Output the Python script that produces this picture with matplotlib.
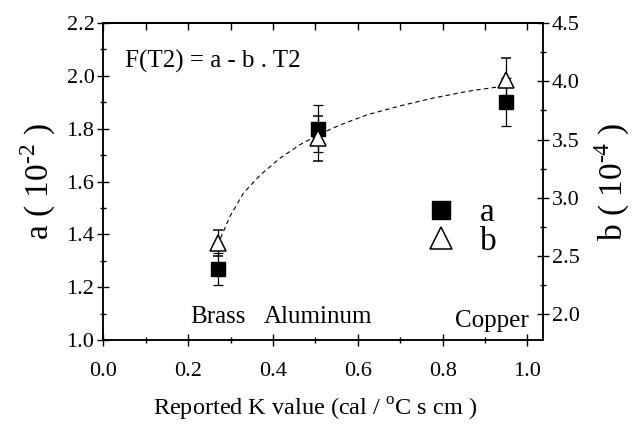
import matplotlib
matplotlib.use("Agg")
import matplotlib.pyplot as plt
from matplotlib.lines import Line2D
from matplotlib.ticker import MultipleLocator, NullFormatter

plt.rcParams["font.family"] = ["Liberation Serif", "DejaVu Serif"]
plt.rcParams["mathtext.fontset"] = "custom"
plt.rcParams["mathtext.rm"] = "Liberation Serif"

# data
metals = ["Brass", "Aluminum", "Copper"]
k_value = [0.27, 0.507, 0.95]
a_val = [1.27, 1.80, 1.90]
a_err = [0.06, 0.09, 0.09]
b_val = [2.61, 3.51, 4.01]
b_err = [0.11, 0.19, 0.19]

# dashed guide curve (left-axis units)
fit_k = [0.276, 0.298, 0.330, 0.370, 0.416, 0.463, 0.507, 0.558, 0.621,
         0.699, 0.778, 0.857, 0.935]
fit_a = [1.385, 1.467, 1.556, 1.625, 1.688, 1.739, 1.777, 1.814, 1.852,
         1.886, 1.916, 1.941, 1.959]

label_y = [1.087, 1.087, 1.072]
label_dx = [0.0, 0.0, -0.035]

fig = plt.figure(figsize=(6.4, 4.24), dpi=100)
ax = fig.add_axes([0.1617, 0.198, 0.6867, 0.7478])
ax2 = ax.twinx()

ax.set_xlim(0, 1.0366)
ax.set_ylim(1.0, 2.2)
ax2.set_ylim(1.78, 4.5)

ax.plot(fit_k, fit_a, ls=(0, (4, 3)), color="black", lw=0.8, zorder=2)

ax.errorbar(k_value, a_val, yerr=a_err, fmt="s", ms=9.5, mfc="black", mec="black",
            ecolor="black", elinewidth=0.9, capsize=3.5, capthick=0.9, zorder=3)
ax2.errorbar(k_value, b_val, yerr=b_err, fmt="^", ms=12, mfc="white", mec="black",
             mew=1.1, ecolor="black", elinewidth=0.9, capsize=3.5, capthick=0.9, zorder=4)

for name, k, y, dx in zip(metals, k_value, label_y, label_dx):
    ax.text(k + dx, y, name, ha="center", va="center", fontsize=18)

ax.text(0.05, 2.055, "F(T2) = a - b . T2", ha="left", va="center", fontsize=18)

handles = [
    Line2D([], [], ls="none", marker="s", ms=13, mfc="black", mec="black"),
    Line2D([], [], ls="none", marker="^", ms=16.5, mfc="white", mec="black", mew=1.1),
]
ax2.legend(handles, ["a", "b"], loc="center left", bbox_to_anchor=(0.685, 0.355),
           frameon=False, fontsize=24, handletextpad=0.55, labelspacing=-0.05,
           handlelength=1.2, borderpad=0)

ax.xaxis.set_major_locator(MultipleLocator(0.2))
ax.xaxis.set_minor_locator(MultipleLocator(0.1))
ax.yaxis.set_major_locator(MultipleLocator(0.2))
ax.yaxis.set_minor_locator(MultipleLocator(0.1))
ax2.yaxis.set_major_locator(MultipleLocator(0.5))
ax2.yaxis.set_minor_locator(MultipleLocator(0.25))
ax.xaxis.set_major_formatter(lambda v, p: f"{v:.1f}")
ax.yaxis.set_major_formatter(lambda v, p: f"{v:.1f}")
ax2.yaxis.set_major_formatter(lambda v, p: f"{v:.1f}")

ax.tick_params(axis="both", which="major", direction="inout", length=9, width=1,
               labelsize=16, pad=2)
ax.tick_params(axis="both", which="minor", direction="inout", length=4.5, width=1)
ax.tick_params(axis="x", which="major", pad=11)
ax2.tick_params(axis="y", which="major", direction="inout", length=9, width=1,
                labelsize=16, pad=2)
ax2.tick_params(axis="y", which="minor", direction="inout", length=4.5, width=1)

top = ax.secondary_xaxis("top")
top.xaxis.set_major_locator(MultipleLocator(0.2))
top.xaxis.set_minor_locator(MultipleLocator(0.1))
top.xaxis.set_major_formatter(NullFormatter())
top.tick_params(which="major", direction="in", length=5, width=1)
top.tick_params(which="minor", direction="in", length=5, width=1)

for a in (ax, ax2, top):
    for s in a.spines.values():
        s.set_linewidth(1.1)

ax.set_ylabel("a ( 10$^{\\text{-2}}$ )", fontsize=24, labelpad=6)
ax2.set_ylabel("b ( 10$^{\\text{-4}}$ )", fontsize=24, labelpad=9)
ax.set_xlabel("Reported K value (cal / $^{\\mathregular{o}}$C s cm )", fontsize=17.5, labelpad=11)
ax.xaxis.label.set_x(0.481)

fig.savefig("out.png", dpi=100)
